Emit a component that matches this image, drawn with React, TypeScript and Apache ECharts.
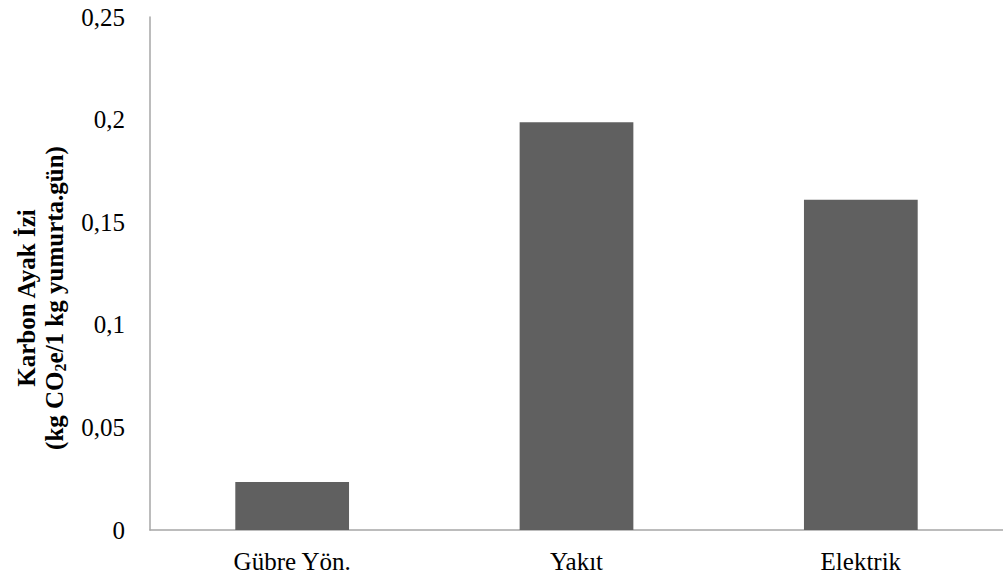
import React, { useEffect, useRef } from "react";
import * as echarts from "echarts";

const categories = ["Gübre Yön.", "Yakıt", "Elektrik"];
const values = [0.0234, 0.1987, 0.161];
const yTicks = [0, 0.05, 0.1, 0.15, 0.2, 0.25];
const axisTitle1 = "Karbon Ayak İzi";
const axisTitle2 = "(kg CO{sub|2}e/1 kg yumurta.gün)";

export default function App() {
  const ref = useRef<HTMLDivElement>(null);
  useEffect(() => {
    if (!ref.current) return;
    const chart = echarts.init(ref.current, null, { renderer: "svg" });
    const font = "'Liberation Serif', 'Times New Roman', serif";
    chart.setOption({
      animation: false,
      backgroundColor: "#ffffff",
      grid: { left: 150, top: 17, width: 857, height: 513 },
      xAxis: {
        type: "category",
        data: categories,
        axisLine: { show: true, lineStyle: { color: "#a6a6a6", width: 1.5 } },
        axisTick: { show: false },
        axisLabel: { color: "#000", fontFamily: font, fontSize: 25, margin: 19 },
      },
      yAxis: {
        type: "value",
        min: 0,
        max: yTicks[yTicks.length - 1],
        interval: 0.05,
        splitLine: { show: false },
        axisLine: { show: true, lineStyle: { color: "#a6a6a6", width: 1.5 } },
        axisTick: { show: false },
        axisLabel: {
          color: "#000",
          fontFamily: font,
          fontSize: 25,
          margin: 25,
          formatter: (v: number) => String(Math.round(v * 100) / 100).replace(".", ","),
        },
      },
      series: [
        {
          type: "bar",
          data: values,
          barWidth: "40%",
          itemStyle: { color: "#606060" },
        },
      ],
      graphic: [
        {
          type: "text",
          x: 40,
          y: 298,
          rotation: Math.PI / 2,
          style: {
            text: axisTitle1 + "\n" + axisTitle2,
            fontFamily: font,
            fontWeight: "bold",
            fontSize: 25,
            lineHeight: 28,
            fill: "#000",
            align: "center",
            verticalAlign: "middle",
            rich: {
              sub: {
                fontFamily: font,
                fontWeight: "bold",
                fontSize: 16,
                lineHeight: 28,
                verticalAlign: "bottom",
                padding: [10, 0, 0, 0],
              },
            },
          },
        },
      ],
    });
    return () => chart.dispose();
  }, []);
  return (
    <div
      ref={ref}
      style={{ position: "fixed", left: 0, top: 0, width: 1003, height: 578, background: "#fff" }}
    />
  );
}
